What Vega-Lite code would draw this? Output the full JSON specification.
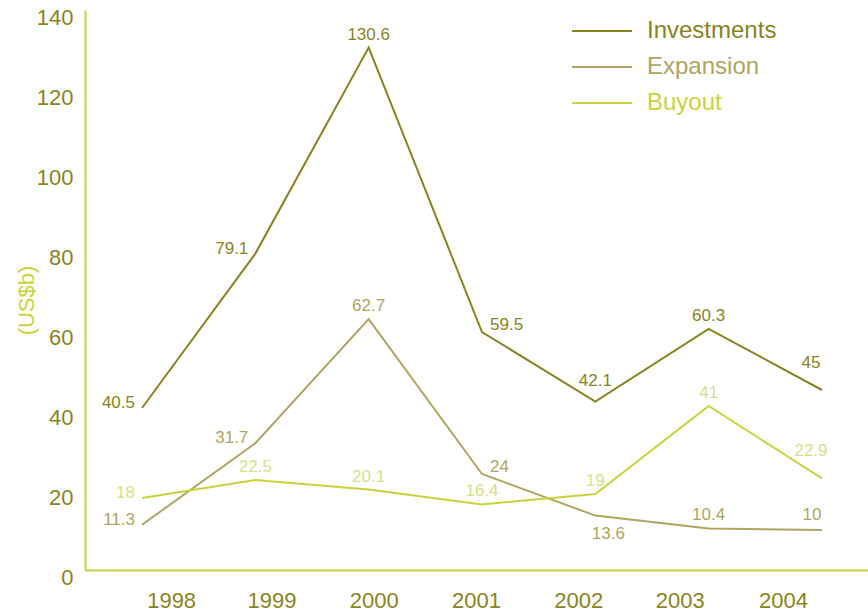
{
  "$schema": "https://vega.github.io/schema/vega-lite/v6.json",
  "width": 783,
  "height": 560,
  "autosize": {"type": "none"},
  "padding": {"left": 85, "top": 10, "right": 0, "bottom": 44},
  "background": "white",
  "config": {"view": {"stroke": null}, "font": "Liberation Sans"},
  "data": {
    "values": [
      {"year": 1998, "series": "Investments", "value": 40.5},
      {"year": 1999, "series": "Investments", "value": 79.1},
      {"year": 2000, "series": "Investments", "value": 130.6},
      {"year": 2001, "series": "Investments", "value": 59.5},
      {"year": 2002, "series": "Investments", "value": 42.1},
      {"year": 2003, "series": "Investments", "value": 60.3},
      {"year": 2004, "series": "Investments", "value": 45},
      {"year": 1998, "series": "Expansion", "value": 11.3},
      {"year": 1999, "series": "Expansion", "value": 31.7},
      {"year": 2000, "series": "Expansion", "value": 62.7},
      {"year": 2001, "series": "Expansion", "value": 24},
      {"year": 2002, "series": "Expansion", "value": 13.6},
      {"year": 2003, "series": "Expansion", "value": 10.4},
      {"year": 2004, "series": "Expansion", "value": 10},
      {"year": 1998, "series": "Buyout", "value": 18},
      {"year": 1999, "series": "Buyout", "value": 22.5},
      {"year": 2000, "series": "Buyout", "value": 20.1},
      {"year": 2001, "series": "Buyout", "value": 16.4},
      {"year": 2002, "series": "Buyout", "value": 19},
      {"year": 2003, "series": "Buyout", "value": 41},
      {"year": 2004, "series": "Buyout", "value": 22.9}
    ]
  },
  "encoding": {
    "x": {
      "field": "year",
      "type": "quantitative",
      "scale": {"domain": [1997.497, 2004.406], "nice": false, "zero": false},
      "axis": {
        "title": null,
        "values": [1998.257, 1999.142, 2000.044, 2000.947, 2001.85, 2002.744, 2003.655],
        "labelExpr": "format(round(datum.value), 'd')",
        "grid": false,
        "ticks": false,
        "domainColor": "#c8d43a",
        "domainWidth": 2,
        "labelColor": "#8a8420",
        "labelFontSize": 22,
        "labelPadding": 20,
        "labelFont": "Liberation Sans"
      }
    },
    "y": {
      "field": "value",
      "type": "quantitative",
      "scale": {"domain": [0, 140], "nice": false},
      "axis": {
        "values": [0, 20, 40, 60, 80, 100, 120, 140],
        "grid": false,
        "ticks": false,
        "domainColor": "#c8d43a",
        "domainWidth": 2,
        "labelColor": "#8a8420",
        "labelFontSize": 22,
        "labelPadding": 12,
        "labelOffset": 7,
        "labelFont": "Liberation Sans",
        "title": "(US$b)",
        "titleColor": "#c8d43a",
        "titleFontSize": 22,
        "titleFontWeight": "normal",
        "titleFont": "Liberation Sans",
        "titlePadding": -2,
        "titleY": 290
      }
    }
  },
  "layer": [
    {
      "mark": {"type": "line", "strokeWidth": 2},
      "encoding": {
        "color": {
          "field": "series",
          "type": "nominal",
          "scale": {"domain": ["Investments", "Expansion", "Buyout"], "range": ["#8a8420", "#b0a560", "#c8d43a"]},
          "legend": {
            "title": null,
            "orient": "none",
            "legendX": 505,
            "legendY": 9,
            "symbolType": "M-3,0L3,0",
            "symbolSize": 400,
            "symbolStrokeWidth": 2,
            "labelFontSize": 24,
            "labelFont": "Liberation Sans",
            "labelOffset": 33,
            "rowPadding": 12,
            "encode": {
              "labels": {"update": {"fill": {"scale": "color", "field": "value"}}}
            }
          }
        }
      }
    },
    {
      "transform": [{"filter": "(datum.series !== 'Buyout' && datum.year <= 1999) || (datum.series === 'Buyout' && datum.year === 1998)"}],
      "mark": {"type": "text", "align": "right", "baseline": "middle", "dx": -7, "dy": -5, "fontSize": 17, "font": "Liberation Sans"},
      "encoding": {
        "text": {"field": "value", "type": "quantitative"},
        "color": {"condition": {"test": "datum.series === 'Buyout'", "value": "#d6df87"}, "field": "series", "type": "nominal"}
      }
    },
    {
      "transform": [{"filter": "datum.series !== 'Buyout' && datum.year === 2001"}],
      "mark": {"type": "text", "align": "left", "baseline": "middle", "dx": 8, "dy": -7, "fontSize": 17, "font": "Liberation Sans"},
      "encoding": {
        "text": {"field": "value", "type": "quantitative"},
        "color": {"field": "series", "type": "nominal"}
      }
    },
    {
      "transform": [{"filter": "datum.series === 'Expansion' && datum.year === 2002"}],
      "mark": {"type": "text", "align": "center", "baseline": "middle", "dx": 13, "dy": 18, "fontSize": 17, "font": "Liberation Sans"},
      "encoding": {
        "text": {"field": "value", "type": "quantitative"},
        "color": {"field": "series", "type": "nominal"}
      }
    },
    {
      "transform": [{"filter": "datum.year === 2004 && datum.series !== 'Expansion'"}],
      "mark": {"type": "text", "align": "center", "baseline": "alphabetic", "dx": -11, "dy": -22, "fontSize": 17, "font": "Liberation Sans"},
      "encoding": {
        "text": {"field": "value", "type": "quantitative"},
        "color": {"condition": {"test": "datum.series === 'Buyout'", "value": "#d6df87"}, "field": "series", "type": "nominal"}
      }
    },
    {
      "transform": [{"filter": "datum.year === 2004 && datum.series === 'Expansion'"}],
      "mark": {"type": "text", "align": "center", "baseline": "alphabetic", "dx": -10, "dy": -10, "fontSize": 17, "font": "Liberation Sans"},
      "encoding": {
        "text": {"field": "value", "type": "quantitative"},
        "color": {"field": "series", "type": "nominal"}
      }
    },
    {
      "transform": [{"filter": "datum.year === 2002 && datum.series === 'Investments'"}],
      "mark": {"type": "text", "align": "center", "baseline": "alphabetic", "dy": -16, "fontSize": 17, "font": "Liberation Sans"},
      "encoding": {
        "text": {"field": "value", "type": "quantitative"},
        "color": {"field": "series", "type": "nominal"}
      }
    },
    {
      "transform": [{"filter": "(datum.year >= 2000 && datum.year <= 2003 && !(datum.series !== 'Buyout' && datum.year === 2001) && !(datum.year === 2002 && datum.series !== 'Buyout')) || (datum.series === 'Buyout' && datum.year === 1999)"}],
      "mark": {"type": "text", "align": "center", "baseline": "alphabetic", "dy": -8, "fontSize": 17, "font": "Liberation Sans"},
      "encoding": {
        "text": {"field": "value", "type": "quantitative"},
        "color": {"condition": {"test": "datum.series === 'Buyout'", "value": "#d6df87"}, "field": "series", "type": "nominal"}
      }
    }
  ]
}
